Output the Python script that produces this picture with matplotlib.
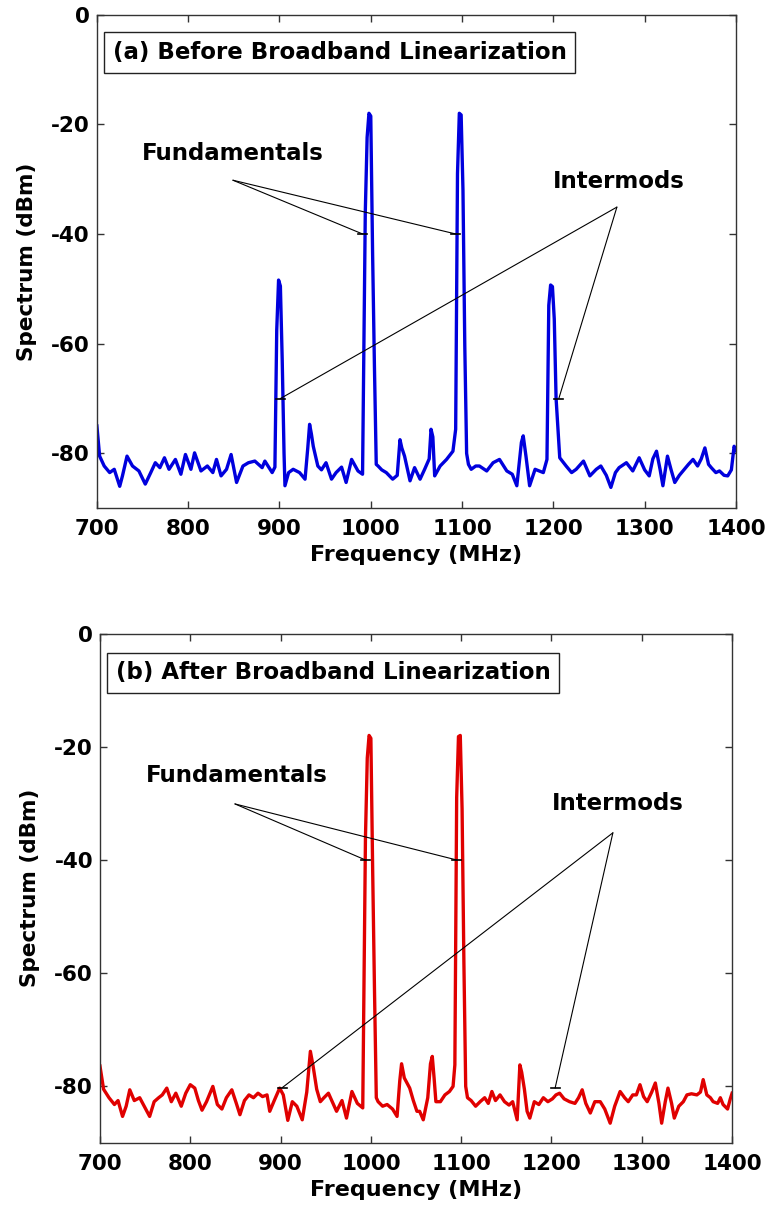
import numpy as np
import matplotlib
matplotlib.use('Agg')
import matplotlib.pyplot as plt

plt.rcParams['axes.unicode_minus'] = False

# (a) before linearization - frequency (MHz) and spectrum (dBm)
freq_a = [700, 703, 708, 714, 719, 725, 728, 733, 739, 746, 753, 759, 764, 769, 774, 779, 786, 792, 797, 803,
          807, 814, 821, 827, 831, 836, 842, 847, 853, 860, 866, 873, 881, 884, 892, 895,
          897, 899, 901, 903, 905,
          906, 910, 915, 922, 928, 931, 933, 935, 937, 942, 946, 951, 957, 962, 968, 973, 979, 986, 991,
          994, 996, 998, 1000, 1002, 1004, 1006,
          1008, 1012, 1017, 1024, 1029, 1032, 1034, 1037, 1043, 1048, 1054, 1059, 1064, 1066, 1068, 1070,
          1076, 1083, 1090, 1093,
          1095, 1097, 1099, 1101, 1103, 1105,
          1107, 1110, 1115, 1119, 1127, 1134, 1141, 1149, 1155, 1160, 1165, 1167, 1170, 1174, 1180, 1189, 1193,
          1195, 1197, 1199, 1201, 1203,
          1207, 1214, 1220, 1225, 1233, 1240, 1247, 1252, 1258, 1263, 1268, 1272, 1280, 1287, 1294, 1300,
          1305, 1309, 1313, 1317, 1320, 1325, 1329, 1333, 1338, 1342, 1348, 1353, 1358, 1362, 1366, 1370,
          1373, 1378, 1382, 1387, 1391, 1395, 1398, 1400]
spec_a = [-75, -80.5, -82.3, -83.5, -82.9, -86, -84.1, -80.5, -82.3, -83.2, -85.6, -83.5, -81.7, -82.6, -80.8,
          -82.9, -81.1, -83.8, -80.2, -82.9,
          -79.9, -83.2, -82.3, -83.5, -81.1, -84.1, -82.9, -80.2, -85.3, -82.3, -81.7, -81.4, -82.6, -81.4,
          -83.5, -82.5,
          -57.5, -48.4, -49.5, -63, -80,
          -85.9, -83.5, -82.9, -83.5, -84.7, -79, -74.7, -76.5, -78.7, -82.3, -83, -81.7, -84.7, -83.5, -82.5,
          -85.3, -81.1, -83.2, -83.8,
          -36, -22.4, -18, -18.5, -43.5, -64, -82,
          -82.3, -83, -83.5, -84.7, -84, -77.5, -79, -80.5, -85, -82.6, -84.7, -82.9, -81, -75.6, -77, -84.1,
          -82.3, -81.1, -79.6, -75.6,
          -29, -18, -18.3, -32, -60.5, -80,
          -82, -82.9, -82.3, -82.3, -83.2, -81.7, -81.1, -83.2, -83.8, -85.9, -78, -76.8, -80.5, -85.9,
          -82.9, -83.5, -81.1,
          -53, -49.3, -49.6, -55.5, -70,
          -80.8, -82.3, -83.5, -82.9, -81.4, -84.1, -82.9, -82.3, -84, -86.2, -83.5, -82.6, -81.7, -83.2,
          -80.8, -83,
          -84.1, -81, -79.6, -83, -85.9, -80.5, -83, -85.3, -84, -83.2, -82, -81.1, -82.3, -81, -79, -82,
          -82.6, -83.5, -83.2, -84, -84.1, -83, -78.7, -79.5]

# (b) after linearization
freq_b = [700, 704, 710, 716, 720, 725, 729, 733, 738, 744, 750, 755, 760, 765, 769, 774, 779, 784, 790, 795,
          800, 805, 809, 813, 818, 825, 830, 835, 840, 846, 851, 855, 860, 865, 870, 875, 880, 885, 888, 893,
          899, 903, 908, 913, 918, 924, 929, 933, 936, 940, 944, 948, 953, 958, 962, 968, 973, 979, 985, 991,
          994, 996, 998, 1000, 1002, 1004, 1006,
          1008, 1013, 1018, 1024, 1029, 1032, 1034, 1037, 1043, 1047, 1051, 1054, 1058, 1063, 1066, 1068,
          1070, 1072, 1077, 1082, 1087, 1091, 1093,
          1095, 1097, 1099, 1101, 1103, 1105,
          1107, 1111, 1116, 1121, 1126, 1130, 1134, 1138, 1143, 1148, 1153, 1157, 1162, 1165, 1167, 1170,
          1173, 1176, 1181, 1186, 1191, 1196, 1201, 1205, 1209, 1214, 1220, 1226, 1230, 1234, 1238, 1243,
          1248, 1254, 1259, 1265, 1270, 1276, 1281, 1285, 1290, 1294, 1298, 1302, 1306, 1311, 1315, 1319,
          1322, 1326, 1329, 1333, 1336, 1341, 1346, 1350, 1355, 1361, 1365, 1368, 1372, 1376, 1379, 1384,
          1387, 1390, 1395, 1398, 1400]
spec_b = [-76.4, -80.5, -82, -83.2, -82.5, -85.3, -83.5, -80.6, -82.5, -82, -83.8, -85.3, -82.7, -82, -81.5,
          -80.3, -82.7, -81.2, -83.5, -81.2,
          -79.7, -80.3, -82.5, -84.2, -82.7, -80, -83.2, -84, -82, -80.6, -83, -85, -82.5, -81.5, -82, -81.2,
          -81.8, -81.5, -84.4, -82.5,
          -80.3, -81.5, -86, -82.7, -83.5, -85.9, -81, -73.8, -76.4, -80.5, -82.7, -82, -81.2, -83, -84.4,
          -82.5, -85.6, -80.9, -83, -83.8,
          -36, -22, -18, -18.5, -42, -63, -82,
          -82.7, -83.5, -83.2, -84, -85.3, -79, -76, -78.5, -80.3, -82.5, -84.4, -84.4, -85.9, -82, -76,
          -74.7, -78.5, -82.7, -82.7, -81.5, -80.9, -80, -76.2,
          -29, -18.2, -18, -31, -58, -80,
          -82, -82.5, -83.5, -82.7, -82, -83, -80.9, -82.5, -81.5, -82.7, -83.3, -82.7, -85.9, -76.2, -77.5,
          -80.5,
          -84.4, -85.6, -82.7, -83.2, -82, -82.7, -82.2, -81.5, -81.2, -82.2, -82.7, -83, -82, -80.6, -83,
          -84.7,
          -82.7, -82.7, -84, -86.5, -83.5, -80.9, -82, -82.7, -81.5, -81.5, -79.7, -81.8, -82.7, -81, -79.4,
          -83,
          -86.5, -82.7, -80.3, -83, -85.6, -83.5, -82.7, -81.5, -81.3, -81.5, -81, -78.8, -81.5, -82, -82.7,
          -83,
          -82, -83.2, -84, -82.2, -81.2]

xticks = [700, 800, 900, 1000, 1100, 1200, 1300, 1400]
yticks = [0, -20, -40, -60, -80]
titles = ['(a) Before Broadband Linearization', '(b) After Broadband Linearization']

fig = plt.figure(figsize=(7.69, 12.13), dpi=100)
ax1 = fig.add_axes([0.126, 0.581, 0.831, 0.407])
ax2 = fig.add_axes([0.130, 0.0577, 0.822, 0.420])

def style(ax, title):
    ax.set_xlim(700, 1400)
    ax.set_ylim(-90, 0)
    ax.set_xticks(xticks)
    ax.set_yticks(yticks)
    ax.tick_params(direction='in', top=True, right=True, length=5, width=1, color='#333333')
    ax.tick_params(axis='x', pad=8, labelsize=15.5)
    ax.tick_params(axis='y', pad=5, labelsize=15.5)
    for lab in ax.get_xticklabels() + ax.get_yticklabels():
        lab.set_fontweight('bold')
    for s in ax.spines.values():
        s.set_color('#333333')
        s.set_linewidth(1.0)
    ax.set_xlabel('Frequency (MHz)', fontsize=16, fontweight='bold', labelpad=4)
    ax.set_ylabel('Spectrum (dBm)', fontsize=15.5, fontweight='bold', labelpad=10)
    ax.text(0.025, 0.923, title, transform=ax.transAxes, fontsize=16.5, fontweight='bold',
            ha='left', va='center',
            bbox=dict(boxstyle='square,pad=0.38', fc='white', ec='#222222', lw=1))

def pointer(ax, apex, ends, label, label_xy):
    ax.text(label_xy[0], label_xy[1], label, fontsize=16.5, fontweight='bold', ha='left', va='center')
    for e in ends:
        ax.annotate('', xy=e, xytext=apex,
                    arrowprops=dict(arrowstyle='-', lw=0.8, color='black', shrinkA=0, shrinkB=0))
        ax.plot([e[0] - 5, e[0] + 5], [e[1], e[1]], color='black', lw=1.2)

ax1.plot(freq_a, spec_a, color='#0000dd', lw=2.4)
style(ax1, titles[0])
pointer(ax1, (849, -30.2), [(991, -40), (1093, -40)], 'Fundamentals', (749, -25.3))
pointer(ax1, (1269.6, -35.1), [(901, -70), (1206, -70)], 'Intermods', (1199.5, -30.4))

ax2.plot(freq_b, spec_b, color='#e00000', lw=2.4)
style(ax2, titles[1])
pointer(ax2, (849.5, -30.1), [(994, -40), (1095, -40)], 'Fundamentals', (751, -25.1))
pointer(ax2, (1268, -35.2), [(902, -80.2), (1204, -80.3)], 'Intermods', (1200.6, -30.1))

fig.savefig('out.png', dpi=100)
